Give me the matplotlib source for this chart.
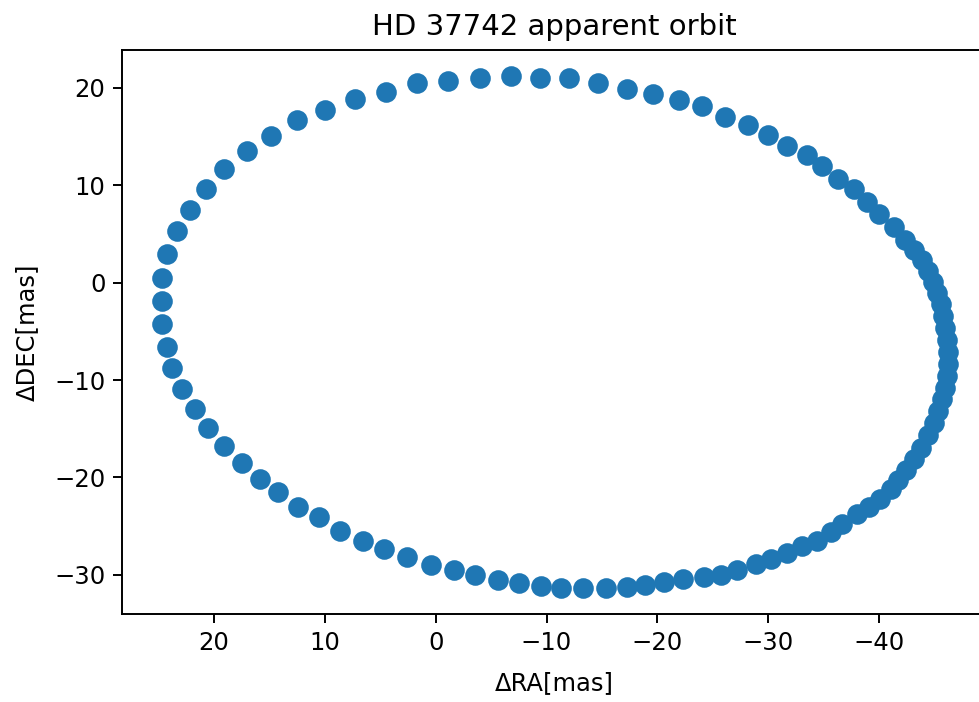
import numpy as np
from matplotlib import pyplot as plt

# relative position of the companion (mas)
ra = np.array([
    -6.76, -9.37, -12.07, -14.68, -17.26, -19.58, -21.92, -23.99, -26.13, -28.16,
    -30.03, -31.68, -33.54, -34.89, -36.33, -37.75, -38.88, -40.05, -41.38, -42.37,
    -43.18, -43.90, -44.44, -44.89, -45.25, -45.57, -45.79, -45.97, -46.11, -46.20,
    -46.20, -46.11, -45.93, -45.70, -45.34, -44.94, -44.44, -43.81, -43.18, -42.46,
    -41.74, -41.05, -40.14, -39.10, -38.05, -36.69, -35.64, -34.44, -33.09, -31.68,
    -30.30, -28.88, -27.23, -25.79, -24.17, -22.28, -20.63, -18.88, -17.23, -15.37,
    -13.27, -11.32, -9.51, -7.50, -5.61, -3.51, -1.65, 0.45, 2.56, 4.66,
    6.55, 8.65, 10.51, 12.41, 14.21, 15.86, 17.45, 19.10, 20.51, 21.71,
    22.86, 23.82, 24.27, 24.72, 24.72, 24.72, 24.27, 23.31, 22.16, 20.72,
    19.07, 17.00, 14.90, 12.56, 10.00, 7.24, 4.45, 1.66, -1.11, -3.96,
])
dec = np.array([
    21.26, 21.03, 21.03, 20.51, 19.90, 19.38, 18.80, 18.11, 17.03, 16.21,
    15.18, 14.08, 13.06, 11.96, 10.67, 9.57, 8.27, 7.01, 5.67, 4.34,
    3.31, 2.29, 1.16, 0.03, -1.10, -2.23, -3.46, -4.69, -5.92, -7.15,
    -8.38, -9.61, -10.84, -11.97, -13.20, -14.43, -15.66, -16.99, -18.12, -19.25,
    -20.28, -21.20, -22.23, -23.08, -23.76, -24.79, -25.64, -26.50, -27.02, -27.79,
    -28.38, -28.89, -29.48, -30.02, -30.26, -30.43, -30.77, -31.05, -31.28, -31.38,
    -31.38, -31.38, -31.12, -30.84, -30.53, -30.02, -29.48, -28.96, -28.21, -27.35,
    -26.50, -25.48, -24.10, -23.08, -21.54, -20.17, -18.56, -16.76, -14.87, -12.99,
    -10.87, -8.72, -6.56, -4.28, -1.89, 0.51, 2.90, 5.29, 7.42, 9.57,
    11.69, 13.50, 15.11, 16.75, 17.77, 18.87, 19.59, 20.51, 20.68, 21.03,
])

dpi = 175
fig = plt.figure(figsize=(979 / dpi, 702 / dpi), dpi=dpi)
ax = fig.add_axes([0.1251, 0.1254, 0.883, 0.8034])

ax.scatter(ra, dec, s=56)
ax.invert_xaxis()

ax.set_title("HD 37742 apparent orbit")
ax.set_xlabel("ΔRA[mas]", labelpad=6.5)
ax.set_ylabel("ΔDEC[mas]", labelpad=6.5)

fig.savefig("out.png", dpi=dpi)
